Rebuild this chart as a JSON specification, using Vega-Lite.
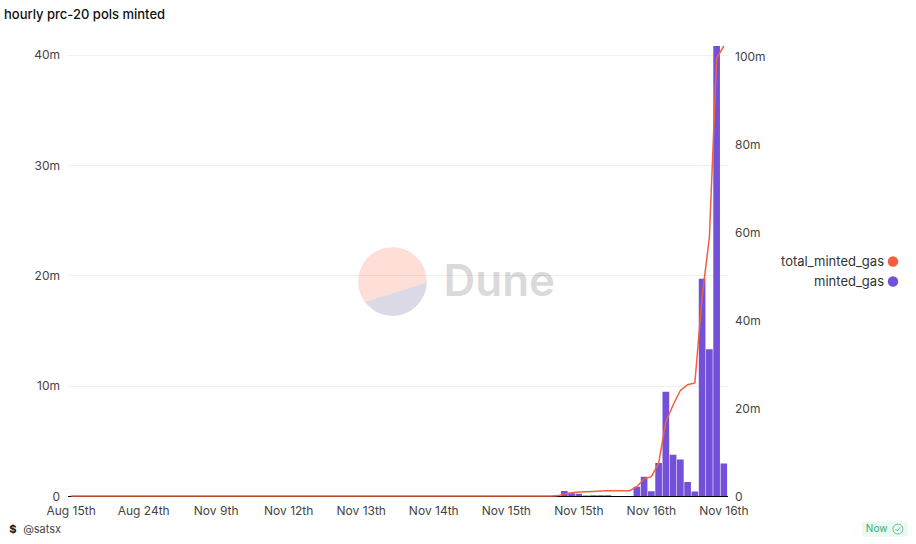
{"$schema":"https://vega.github.io/schema/vega-lite/v6.json","width":660,"height":450,"autosize":{"type":"none"},"padding":{"left":67.5,"top":46,"right":188.5,"bottom":48},"background":"white","title":{"text":"hourly prc-20 pols minted","anchor":"start","frame":"group","dx":-63.5,"offset":21,"fontSize":13,"fontWeight":500,"font":"Inter","color":"#111"},"config":{"view":{"stroke":null},"font":"Inter"},"datasets":{"hours":[{"slot":"00 Aug 15th","minted_gas":0,"total_minted_gas":0},{"slot":"01 Aug 15th","minted_gas":0,"total_minted_gas":0},{"slot":"02 Aug 15th","minted_gas":0,"total_minted_gas":0},{"slot":"03 Aug 15th","minted_gas":0,"total_minted_gas":0},{"slot":"04 Aug 15th","minted_gas":0,"total_minted_gas":0},{"slot":"05 Aug 15th","minted_gas":0,"total_minted_gas":0},{"slot":"06 Aug 15th","minted_gas":0,"total_minted_gas":0},{"slot":"07 Aug 15th","minted_gas":0,"total_minted_gas":0},{"slot":"08 Aug 15th","minted_gas":0,"total_minted_gas":0},{"slot":"09 Aug 15th","minted_gas":0,"total_minted_gas":0},{"slot":"10 Aug 24th","minted_gas":0,"total_minted_gas":0},{"slot":"11 Aug 24th","minted_gas":0,"total_minted_gas":0},{"slot":"12 Aug 24th","minted_gas":0,"total_minted_gas":0},{"slot":"13 Aug 24th","minted_gas":0,"total_minted_gas":0},{"slot":"14 Aug 24th","minted_gas":0,"total_minted_gas":0},{"slot":"15 Aug 24th","minted_gas":0,"total_minted_gas":0},{"slot":"16 Aug 24th","minted_gas":0,"total_minted_gas":0},{"slot":"17 Aug 24th","minted_gas":0,"total_minted_gas":0},{"slot":"18 Aug 24th","minted_gas":0,"total_minted_gas":0},{"slot":"19 Aug 24th","minted_gas":0,"total_minted_gas":0},{"slot":"20 Nov 9th","minted_gas":0,"total_minted_gas":0},{"slot":"21 Nov 9th","minted_gas":0,"total_minted_gas":0},{"slot":"22 Nov 9th","minted_gas":0,"total_minted_gas":0},{"slot":"23 Nov 9th","minted_gas":0,"total_minted_gas":0},{"slot":"24 Nov 9th","minted_gas":0,"total_minted_gas":0},{"slot":"25 Nov 9th","minted_gas":0,"total_minted_gas":0},{"slot":"26 Nov 9th","minted_gas":0,"total_minted_gas":0},{"slot":"27 Nov 9th","minted_gas":0,"total_minted_gas":0},{"slot":"28 Nov 9th","minted_gas":0,"total_minted_gas":0},{"slot":"29 Nov 9th","minted_gas":0,"total_minted_gas":0},{"slot":"30 Nov 12th","minted_gas":0,"total_minted_gas":0},{"slot":"31 Nov 12th","minted_gas":0,"total_minted_gas":0},{"slot":"32 Nov 12th","minted_gas":0,"total_minted_gas":0},{"slot":"33 Nov 12th","minted_gas":0,"total_minted_gas":0},{"slot":"34 Nov 12th","minted_gas":0,"total_minted_gas":0},{"slot":"35 Nov 12th","minted_gas":0,"total_minted_gas":0},{"slot":"36 Nov 12th","minted_gas":0,"total_minted_gas":0},{"slot":"37 Nov 12th","minted_gas":0,"total_minted_gas":0},{"slot":"38 Nov 12th","minted_gas":0,"total_minted_gas":0},{"slot":"39 Nov 12th","minted_gas":0,"total_minted_gas":0},{"slot":"40 Nov 13th","minted_gas":0,"total_minted_gas":0},{"slot":"41 Nov 13th","minted_gas":0,"total_minted_gas":0},{"slot":"42 Nov 13th","minted_gas":0,"total_minted_gas":0},{"slot":"43 Nov 13th","minted_gas":0,"total_minted_gas":0},{"slot":"44 Nov 13th","minted_gas":0,"total_minted_gas":0},{"slot":"45 Nov 13th","minted_gas":0,"total_minted_gas":0},{"slot":"46 Nov 13th","minted_gas":0,"total_minted_gas":0},{"slot":"47 Nov 13th","minted_gas":0,"total_minted_gas":0},{"slot":"48 Nov 13th","minted_gas":0,"total_minted_gas":0},{"slot":"49 Nov 13th","minted_gas":0,"total_minted_gas":0},{"slot":"50 Nov 14th","minted_gas":0,"total_minted_gas":0},{"slot":"51 Nov 14th","minted_gas":0,"total_minted_gas":0},{"slot":"52 Nov 14th","minted_gas":0,"total_minted_gas":0},{"slot":"53 Nov 14th","minted_gas":0,"total_minted_gas":0},{"slot":"54 Nov 14th","minted_gas":0,"total_minted_gas":0},{"slot":"55 Nov 14th","minted_gas":0,"total_minted_gas":0},{"slot":"56 Nov 14th","minted_gas":0,"total_minted_gas":0},{"slot":"57 Nov 14th","minted_gas":0,"total_minted_gas":0},{"slot":"58 Nov 14th","minted_gas":0,"total_minted_gas":0},{"slot":"59 Nov 14th","minted_gas":0,"total_minted_gas":0},{"slot":"60 Nov 15th","minted_gas":0,"total_minted_gas":0},{"slot":"61 Nov 15th","minted_gas":0,"total_minted_gas":0},{"slot":"62 Nov 15th","minted_gas":0,"total_minted_gas":0},{"slot":"63 Nov 15th","minted_gas":0,"total_minted_gas":0},{"slot":"64 Nov 15th","minted_gas":0,"total_minted_gas":0},{"slot":"65 Nov 15th","minted_gas":0,"total_minted_gas":0},{"slot":"66 Nov 15th","minted_gas":0,"total_minted_gas":0},{"slot":"67 Nov 15th","minted_gas":30000,"total_minted_gas":30000},{"slot":"68 Nov 15th","minted_gas":450000,"total_minted_gas":480000},{"slot":"69 Nov 15th","minted_gas":250000,"total_minted_gas":730000},{"slot":"70 Nov 15th","minted_gas":200000,"total_minted_gas":930000},{"slot":"71 Nov 15th","minted_gas":40000,"total_minted_gas":970000},{"slot":"72 Nov 15th","minted_gas":70000,"total_minted_gas":1040000},{"slot":"73 Nov 15th","minted_gas":70000,"total_minted_gas":1110000},{"slot":"74 Nov 15th","minted_gas":60000,"total_minted_gas":1170000},{"slot":"75 Nov 15th","minted_gas":10000,"total_minted_gas":1180000},{"slot":"76 Nov 15th","minted_gas":10000,"total_minted_gas":1190000},{"slot":"77 Nov 15th","minted_gas":10000,"total_minted_gas":1200000},{"slot":"78 Nov 15th","minted_gas":850000,"total_minted_gas":2100000},{"slot":"79 Nov 15th","minted_gas":1750000,"total_minted_gas":3900000},{"slot":"80 Nov 16th","minted_gas":420000,"total_minted_gas":4400000},{"slot":"81 Nov 16th","minted_gas":3000000,"total_minted_gas":7400000},{"slot":"82 Nov 16th","minted_gas":9450000,"total_minted_gas":16900000},{"slot":"83 Nov 16th","minted_gas":3750000,"total_minted_gas":20700000},{"slot":"84 Nov 16th","minted_gas":3320000,"total_minted_gas":24000000},{"slot":"85 Nov 16th","minted_gas":1280000,"total_minted_gas":25300000},{"slot":"86 Nov 16th","minted_gas":400000,"total_minted_gas":25700000},{"slot":"87 Nov 16th","minted_gas":19700000,"total_minted_gas":45400000},{"slot":"88 Nov 16th","minted_gas":13300000,"total_minted_gas":58700000},{"slot":"89 Nov 16th","minted_gas":40800000,"total_minted_gas":99500000},{"slot":"90 Nov 16th","minted_gas":2950000,"total_minted_gas":102300000}],"marks":[{"slot":"44 Nov 13th","y":19300000,"text":"Dune"}],"notes":[{"slot":"00 Aug 15th","y":-3100000}],"badge":[{"slot":"90 Nov 16th","y":-3000000}]},"layer":[{"layer":[{"data":{"name":"marks"},"mark":{"type":"point","filled":true,"xOffset":2.5,"size":4706,"shape":"M-0.81,0.55 A1,1 0 1 1 0.99,-0.02 Z","fill":"#f4603e","fillOpacity":0.2,"strokeWidth":0},"encoding":{"x":{"field":"slot","type":"ordinal","title":null,"scale":{"paddingInner":0.08,"paddingOuter":0.04},"axis":{"values":["00 Aug 15th","10 Aug 24th","20 Nov 9th","30 Nov 12th","40 Nov 13th","50 Nov 14th","60 Nov 15th","70 Nov 15th","80 Nov 16th","90 Nov 16th"],"labelExpr":"slice(datum.value,3)","labelAngle":0,"ticks":false,"domain":true,"domainColor":"#000","domainWidth":1,"labelFontSize":12,"labelFont":"Inter","labelColor":"#444","labelPadding":9,"grid":false}},"y":{"field":"y","type":"quantitative","title":null,"scale":{"domain":[0,40800000]},"axis":{"values":[0,10000000,20000000,30000000,40000000],"labelExpr":"datum.value==0?'0':(datum.value/1000000)+'m'","orient":"left","ticks":false,"domain":false,"grid":true,"gridColor":"#efefef","gridWidth":1,"labelFontSize":12,"labelFont":"Inter","labelColor":"#444","labelPadding":8}}}},{"data":{"name":"marks"},"mark":{"type":"point","filled":true,"xOffset":2.5,"size":4706,"shape":"M0.99,-0.02 A1,1 0 0 1 -0.81,0.55 Z","fill":"#504182","fillOpacity":0.2,"strokeWidth":0},"encoding":{"x":{"field":"slot","type":"ordinal"},"y":{"field":"y","type":"quantitative","scale":{"domain":[0,40800000]}}}},{"data":{"name":"marks"},"mark":{"type":"text","dx":109,"font":"Inter","fontSize":44,"fontWeight":600,"color":"#000","opacity":0.14,"baseline":"middle","align":"center"},"encoding":{"x":{"field":"slot","type":"ordinal"},"y":{"field":"y","type":"quantitative","scale":{"domain":[0,40800000]}},"text":{"field":"text"}}},{"data":{"name":"hours"},"mark":{"type":"bar","clip":true},"encoding":{"x":{"field":"slot","type":"ordinal"},"y":{"field":"minted_gas","type":"quantitative","scale":{"domain":[0,40800000]}},"color":{"datum":"minted_gas","type":"nominal","title":null,"scale":{"domain":["total_minted_gas","minted_gas"],"range":["#f4603e","#7350d9"]},"legend":{"orient":"none","legendX":713.5,"legendY":209,"labelFontSize":13,"labelFont":"Inter","labelColor":"#333","symbolType":"circle","symbolSize":80,"rowPadding":5,"labelLimit":200,"encode":{"labels":{"update":{"align":{"value":"right"},"x":{"value":103}}},"symbols":{"update":{"x":{"value":112},"fill":{"signal":"scale('color',datum.value)"},"stroke":{"value":"transparent"},"opacity":{"value":1}}}}}}}},{"data":{"name":"notes"},"mark":{"type":"text","dx":-48,"align":"left","text":"@satsx","font":"Inter","fontSize":11,"color":"#444"},"encoding":{"x":{"field":"slot","type":"ordinal"},"y":{"field":"y","type":"quantitative","scale":{"domain":[0,40800000]}}}},{"data":{"name":"notes"},"mark":{"type":"text","dx":-62,"align":"left","text":"$","font":"Inter","fontSize":11,"fontWeight":800,"color":"#222"},"encoding":{"x":{"field":"slot","type":"ordinal"},"y":{"field":"y","type":"quantitative","scale":{"domain":[0,40800000]}}}},{"data":{"name":"badge"},"mark":{"type":"point","filled":true,"xOffset":161,"size":2116,"shape":"M-0.85,-0.33 L0.85,-0.33 A0.15,0.15 0 0 1 1,-0.18 L1,0.18 A0.15,0.15 0 0 1 0.85,0.33 L-0.85,0.33 A0.15,0.15 0 0 1 -1,0.18 L-1,-0.18 A0.15,0.15 0 0 1 -0.85,-0.33 Z","fill":"#e4f7ec","strokeWidth":0},"encoding":{"x":{"field":"slot","type":"ordinal"},"y":{"field":"y","type":"quantitative","scale":{"domain":[0,40800000]}}}},{"data":{"name":"badge"},"mark":{"type":"text","dx":142,"align":"left","text":"Now","font":"Inter","fontSize":10,"color":"#2fae68"},"encoding":{"x":{"field":"slot","type":"ordinal"},"y":{"field":"y","type":"quantitative","scale":{"domain":[0,40800000]}}}},{"data":{"name":"badge"},"mark":{"type":"point","filled":false,"xOffset":174,"size":100,"shape":"M-1,0 A1,1 0 1 1 1,0 A1,1 0 1 1 -1,0 Z M-0.45,0 L-0.1,0.35 L0.5,-0.35","stroke":"#2fae68","strokeWidth":1,"fill":null},"encoding":{"x":{"field":"slot","type":"ordinal"},"y":{"field":"y","type":"quantitative","scale":{"domain":[0,40800000]}}}}]},{"data":{"name":"hours"},"mark":{"type":"line","clip":false,"strokeWidth":1.5,"interpolate":"linear"},"encoding":{"x":{"field":"slot","type":"ordinal"},"y":{"field":"total_minted_gas","type":"quantitative","title":null,"scale":{"domain":[0,102300000]},"axis":{"values":[0,20000000,40000000,60000000,80000000,100000000],"labelExpr":"datum.value==0?'0':(datum.value/1000000)+'m'","orient":"right","ticks":false,"domain":false,"grid":false,"labelFontSize":12,"labelFont":"Inter","labelColor":"#444","labelPadding":7}},"color":{"datum":"total_minted_gas","type":"nominal"}}}],"resolve":{"scale":{"y":"independent"}}}
